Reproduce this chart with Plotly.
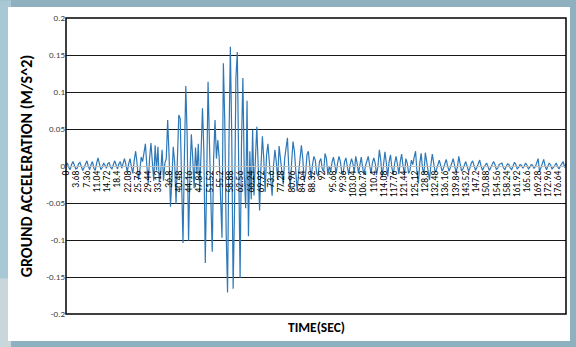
import numpy as np
import plotly.graph_objects as go

# Ground acceleration (m/s^2), one reading every SAMPLE_STEP seconds
SAMPLE_STEP = 0.5
acc_quiet_start = [  # 0 - 19.5 s
    0.001, 0.004, -0.002, -0.005, 0.002, 0.006, 0.001, -0.004, -0.003, 0.003,
    0.005, -0.001, -0.006, -0.002, 0.004, 0.007, 0.000, -0.005, 0.002, 0.006,
    -0.003, -0.006, 0.004, 0.011, 0.003, -0.005, -0.002, 0.004, 0.001, -0.003,
    0.003, 0.005, -0.002, -0.004, 0.002, 0.007, 0.001, -0.004, 0.003, 0.006,
]
acc_build_up = [  # 20 - 35.5 s
    -0.003, 0.004, 0.010, 0.002, -0.008, 0.003, 0.010, -0.002, -0.010, 0.008,
    0.020, 0.004, -0.019, -0.006, 0.012, 0.006, 0.018, 0.030, 0.002, -0.024,
    0.010, 0.031, 0.005, -0.020, 0.028, -0.006, 0.026, -0.022, -0.008, 0.022,
    -0.020, 0.004,
]
acc_strong = [  # 36 - 71.5 s
    0.010, 0.062, 0.015, -0.055, -0.020, 0.026, 0.005, -0.051, 0.010, 0.069,
    0.064, -0.020, -0.104, 0.010, 0.108, 0.040, -0.101, -0.010, 0.043, 0.010,
    -0.030, 0.025, -0.010, 0.030, -0.035, 0.020, 0.078, 0.020, -0.131, -0.020,
    0.114, 0.030, -0.070, -0.116, 0.010, 0.062, 0.010, 0.035, 0.010, -0.060,
    -0.097, 0.139, 0.060, -0.090, -0.171, 0.030, 0.161, 0.040, -0.166, -0.060,
    0.120, 0.154, 0.020, -0.151, 0.030, 0.119, -0.010, -0.057, 0.088, -0.095,
    0.020, -0.045, 0.049, -0.040, 0.010, 0.053, 0.000, -0.060, 0.000, 0.040,
    0.010, -0.035,
]
acc_decay = [  # 72 - 94.5 s
    0.015, 0.030, 0.005, -0.025, -0.040, 0.000, 0.022, 0.005, -0.019, 0.027,
    0.010, -0.015, -0.025, 0.010, 0.025, 0.038, -0.005, -0.030, 0.005, 0.033,
    0.020, -0.015, -0.034, -0.010, 0.015, 0.028, 0.010, -0.020, -0.012, 0.015,
    0.020, -0.005, -0.018, 0.002, 0.013, 0.008, -0.010, -0.014, 0.006, 0.010,
    -0.004, -0.008, 0.017, 0.010, -0.012, 0.000,
]
acc_coda = [  # 95 - 126.5 s
    -0.008, 0.005, 0.012, 0.002, -0.010, 0.004, 0.013, 0.006, -0.008, -0.011,
    0.006, 0.011, -0.002, -0.012, 0.002, 0.010, 0.003, -0.009, 0.013, 0.004,
    -0.010, 0.005, 0.012, -0.002, -0.012, 0.000, 0.008, 0.013, 0.001, -0.010,
    0.004, 0.011, 0.004, -0.012, 0.000, 0.022, 0.008, -0.015, 0.002, 0.019,
    0.004, -0.014, 0.006, 0.015, -0.003, -0.012, 0.004, 0.013, 0.002, -0.011,
    0.006, 0.016, 0.000, -0.012, 0.010, 0.004, -0.010, -0.006, 0.008, 0.002,
    0.012, 0.020, -0.008, -0.024,
]
acc_tail = [  # 127 - 179.5 s
    0.004, 0.017, -0.004, -0.010, 0.018, 0.006, -0.008, -0.019, 0.002, 0.016,
    0.004, -0.008, -0.005, 0.003, 0.008, 0.001, -0.007, -0.003, 0.004, 0.009,
    0.000, -0.007, -0.002, 0.006, 0.010, 0.001, -0.008, -0.002, 0.013, 0.003,
    -0.007, -0.004, 0.002, 0.006, 0.000, -0.007, -0.003, 0.004, 0.007, 0.001,
    -0.006, -0.002, 0.004, 0.008, 0.000, -0.006, -0.002, 0.002, 0.004, -0.001,
    -0.006, -0.002, 0.003, 0.006, 0.002, -0.005, -0.003, 0.002, 0.003, 0.004,
    -0.002, -0.005, -0.001, 0.003, 0.002, -0.003, -0.005, 0.001, 0.005, 0.002,
    -0.004, -0.002, 0.002, 0.001, -0.003, 0.000, 0.004, 0.001, -0.004, -0.002,
    0.002, 0.001, -0.003, -0.001, 0.004, 0.010, -0.008, -0.002, 0.005, 0.009,
    0.000, -0.005, 0.000, 0.004, 0.001, -0.004, -0.002, 0.002, 0.004, -0.001,
    -0.004, 0.000, 0.003, 0.006, -0.002, 0.003,
]
acceleration = acc_quiet_start + acc_build_up + acc_strong + acc_decay + acc_coda + acc_tail
time_sec = np.arange(len(acceleration)) * SAMPLE_STEP

x_tick_labels = ["0", "3.68", "7.36", "11.04", "14.72", "18.4", "22.08", "25.76", "29.44",
                 "33.12", "36.8", "40.48", "44.16", "47.84", "51.52", "55.2", "58.88",
                 "62.56", "66.24", "69.92", "73.6", "77.28", "80.96", "84.64", "88.32",
                 "92", "95.68", "99.36", "103.04", "106.72", "110.4", "114.08", "117.76",
                 "121.44", "125.12", "128.8", "132.48", "136.16", "139.84", "143.52",
                 "147.2", "150.88", "154.56", "158.24", "161.92", "165.6", "169.28",
                 "172.96", "176.64"]
y_tick_labels = ["0.2", "0.15", "0.1", "0.05", "0", "-0.05", "-0.1", "-0.15", "-0.2"]

FONT = "Carlito, Liberation Sans Narrow, Liberation Sans, sans-serif"

fig = go.Figure()
fig.add_trace(go.Scatter(x=time_sec, y=acceleration, mode="lines",
                         line=dict(color="#2E78B7", width=1.2), showlegend=False))

fig.update_layout(
    width=576, height=347,
    margin=dict(l=66, r=10, t=18, b=33, autoexpand=False),
    paper_bgcolor="#8fb0bf",
    plot_bgcolor="white",
    font=dict(family=FONT, color="#404040"),
    xaxis=dict(
        range=[0, float(time_sec[-1])],
        tickvals=[float(v) for v in x_tick_labels],
        ticktext=x_tick_labels,
        tickangle=-90,
        tickfont=dict(size=9.5, color="#000000", family=FONT),
        showgrid=False, zeroline=False,
        anchor="free", position=0.5,
        showline=True, linecolor="#bfbfbf", linewidth=1,
        ticks="", automargin=False,
    ),
    yaxis=dict(
        range=[-0.2, 0.2],
        tickvals=[float(v) for v in y_tick_labels],
        ticktext=y_tick_labels,
        tickfont=dict(size=9, color="#404040", family=FONT),
        showgrid=True, gridcolor="#1a1a1a", gridwidth=1.3,
        zeroline=True, zerolinecolor="#bfbfbf", zerolinewidth=1,
        ticks="", automargin=False,
        title=dict(text="<b>GROUND ACCELERATION (M/S^2)</b>",
                   font=dict(size=16, color="#000000", family=FONT),
                   standoff=9),
    ),
    shapes=[
        # lighter left band of the frame
        dict(type="rect", xref="paper", yref="paper", x0=-0.132, x1=-0.11,
             y0=-0.113, y1=1.06, fillcolor="#a9c8d6", line=dict(width=0), layer="below"),
        dict(type="rect", xref="paper", yref="paper", x0=-0.132, x1=-0.11,
             y0=-0.113, y1=0.12, fillcolor="#c9d6dc", line=dict(width=0), layer="below"),
        # white card
        dict(type="rect", xref="paper", yref="paper", x0=-0.116, x1=1.008,
             y0=-0.0912, y1=1.037, fillcolor="white", line=dict(width=0), layer="below"),
        # plot border
        dict(type="rect", xref="paper", yref="paper", x0=0, x1=1, y0=0, y1=1,
             line=dict(color="#000000", width=1.5), layer="above"),
    ],
    annotations=[
        dict(text="<b>TIME(SEC)</b>", xref="paper", yref="paper", x=0.5, y=-0.044,
             xanchor="center", yanchor="middle", showarrow=False,
             font=dict(size=13.5, color="#000000", family=FONT)),
    ],
)

fig.write_html("out.html", config={"displayModeBar": False},
               post_script="document.body.style.margin='0';document.body.style.overflow='hidden';")
